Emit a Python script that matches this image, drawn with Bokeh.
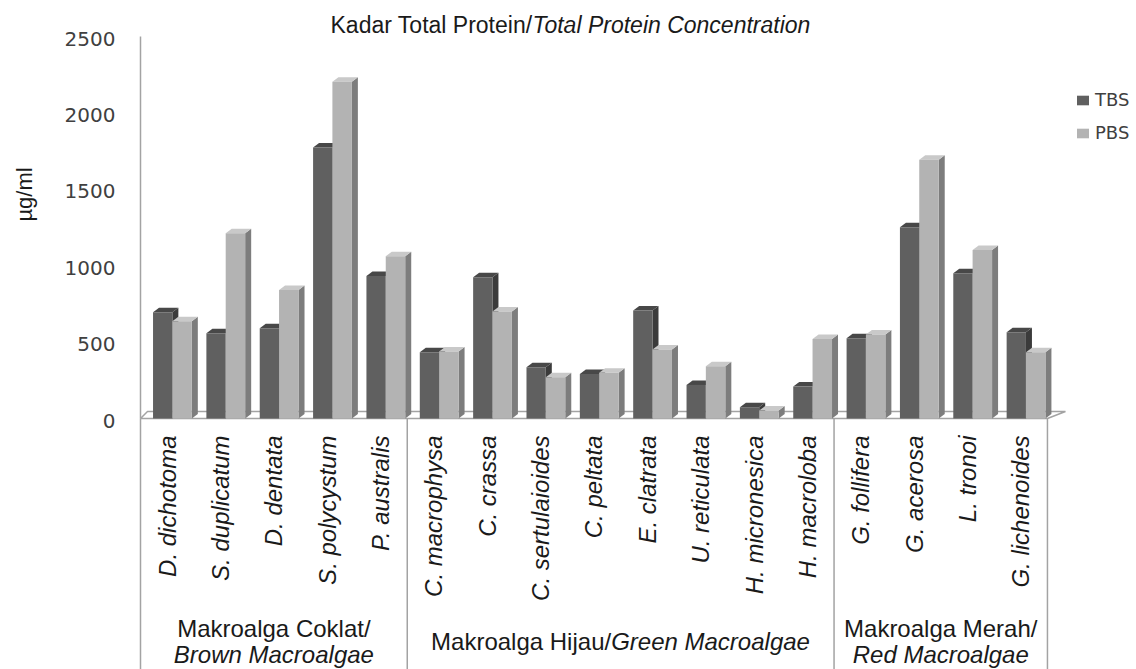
import math
from bokeh.plotting import figure
from bokeh.models import Range1d
from bokeh.core.properties import value
from bokeh.embed import file_html
from bokeh.resources import INLINE

# ---------------- data ----------------
species = ["D. dichotoma", "S. duplicatum", "D. dentata", "S. polycystum", "P. australis",
           "C. macrophysa", "C. crassa", "C. sertulaioides", "C. peltata", "E. clatrata",
           "U. reticulata", "H. micronesica", "H. macroloba",
           "G. follifera", "G. acerosa", "L. tronoi", "G. lichenoides"]
tbs = [695, 558, 590, 1774, 933, 434, 924, 336, 292, 706, 220, 74, 209, 525, 1251, 950, 564]
pbs = [636, 1212, 841, 2204, 1062, 438, 700, 270, 299, 451, 342, 52, 521, 549, 1694, 1103, 434]
group_line1 = ["Makroalga Coklat/", "Makroalga Hijau/", "Makroalga Merah/"]
group_line2 = ["Brown Macroalgae", "Green Macroalgae", "Red Macroalgae"]
group_sizes = [5, 8, 4]
y_ticks = [0, 500, 1000, 1500, 2000, 2500]
series_names = ["TBS", "PBS"]
title_regular = "Kadar Total Protein/"
title_italic = "Total Protein Concentration"
y_label = "\u00b5g/ml"

# ---------------- geometry helpers ----------------
W, H = 1136, 669
X0, Y0 = 140, 418          # pixel position of category 0 / value 0
px_x = 53.35               # pixels per category
px_y = 0.1528              # pixels per value unit

def ux(px):
    return (px - X0) / px_x

def vy(py):
    return (Y0 - py) / px_y

FONT = "Liberation Sans"
TXT = "#1a1a1a"
n = len(species)

p = figure(width=W, height=H, x_range=Range1d(ux(0), ux(W)), y_range=Range1d(vy(H), vy(0)),
           output_backend="svg", toolbar_location=None, title=None,
           min_border_left=0, min_border_right=0, min_border_top=0, min_border_bottom=0)
p.xaxis.visible = False
p.yaxis.visible = False
p.grid.visible = False
p.outline_line_color = None
p.background_fill_color = "white"

d = 6 / px_x           # 3D depth in x
dy = 4.5 / px_y        # 3D depth in y
line_col = "#a3a3a3"

# floor
fl_back = 7 / px_y
p.patch(x=[0, n, n + 18 / px_x, 7 / px_x], y=[0, 0, fl_back, fl_back],
        fill_color="white", line_color=line_col, line_width=1.5)

# bars
def draw_series(vals, x0off, x1off, front, side, top, name):
    sx, sy, tx, ty = [], [], [], []
    left, right = [], []
    for i, v in enumerate(vals):
        x0 = i + x0off
        x1 = i + x1off
        sx.append([x1, x1 + d, x1 + d, x1]); sy.append([0, dy, v + dy, v])
        tx.append([x0, x0 + d, x1 + d, x1]); ty.append([v, v + dy, v + dy, v])
        left.append(x0); right.append(x1)
    p.patches(xs=sx, ys=sy, fill_color=side, line_color=None)
    p.patches(xs=tx, ys=ty, fill_color=top, line_color=None)
    return p.quad(left=left, right=right, bottom=[0] * len(vals), top=vals,
                  fill_color=front, line_color=None, legend_label=name)

draw_series(tbs, 0.235, 0.597, "#606060", "#3b3b3b", "#484848", series_names[0])
draw_series(pbs, 0.597, 0.962, "#b3b3b3", "#7d7d7d", "#c9c9c9", series_names[1])

# value axis line and group separators
bounds = [0]
for s in group_sizes:
    bounds.append(bounds[-1] + s)
p.segment(x0=[0], y0=[y_ticks[-1]], x1=[0], y1=[0], line_color=line_col, line_width=1.5)
p.segment(x0=bounds, y0=[0] * len(bounds), x1=bounds, y1=[vy(H)] * len(bounds),
          line_color=line_col, line_width=1.5)

# value tick labels
p.text(x=[ux(115)] * len(y_ticks), y=[t - 2 / px_y for t in y_ticks],
       text=[str(t) for t in y_ticks], text_align="right", text_baseline="middle",
       text_font=value("DejaVu Sans"), text_font_size="20px", text_color="#404040")

# y label
p.text(x=[ux(24)], y=[vy(194)], text=[y_label], angle=math.pi / 2, text_align="center",
       text_baseline="middle", text_font=value(FONT), text_font_size="22px", text_color=TXT)

# category labels
p.text(x=[i + 0.5 for i in range(n)], y=[vy(435)] * n, text=species, angle=math.pi / 2,
       text_align="right", text_baseline="middle", text_font=value(FONT),
       text_font_style="italic", text_font_size="24px", text_color=TXT)

# group labels
centers = [(bounds[k] + bounds[k + 1]) / 2 for k in range(len(group_sizes))]
for k in (0, 2):
    p.text(x=[centers[k]], y=[vy(628)], text=[group_line1[k]], text_align="center",
           text_baseline="middle", text_font=value(FONT), text_font_size="24px",
           text_color=TXT)
    p.text(x=[centers[k]], y=[vy(654)], text=[group_line2[k]], text_align="center",
           text_baseline="middle", text_font=value(FONT), text_font_style="italic",
           text_font_size="24px", text_color=TXT)
split = centers[1] - 9.5 / px_x
p.text(x=[split], y=[vy(641)], text=[group_line1[1]], text_align="right",
       text_baseline="middle", text_font=value(FONT), text_font_size="24px",
       text_color=TXT)
p.text(x=[split], y=[vy(641)], text=[group_line2[1]], text_align="left",
       text_baseline="middle", text_font=value(FONT), text_font_style="italic",
       text_font_size="24px", text_color=TXT)

# title
tsplit = ux(532)
p.text(x=[tsplit], y=[vy(24.5)], text=[title_regular], text_align="right",
       text_baseline="middle", text_font=value(FONT), text_font_size="23px",
       text_color=TXT)
p.text(x=[tsplit], y=[vy(24.5)], text=[title_italic], text_align="left",
       text_baseline="middle", text_font=value(FONT), text_font_style="italic",
       text_font_size="23px", text_color=TXT)

# legend
lg = p.legend[0]
lg.location = (1075, H - 143)
lg.margin = 0
lg.padding = 0
lg.border_line_color = None
lg.background_fill_alpha = 0
lg.glyph_width = 15
lg.glyph_height = 12
lg.label_standoff = 5
lg.label_height = 20
lg.spacing = 12
lg.label_text_font = "DejaVu Sans"
lg.label_text_font_size = "18px"
lg.label_text_color = "#404040"

open("out.html", "w").write(file_html(p, INLINE))
